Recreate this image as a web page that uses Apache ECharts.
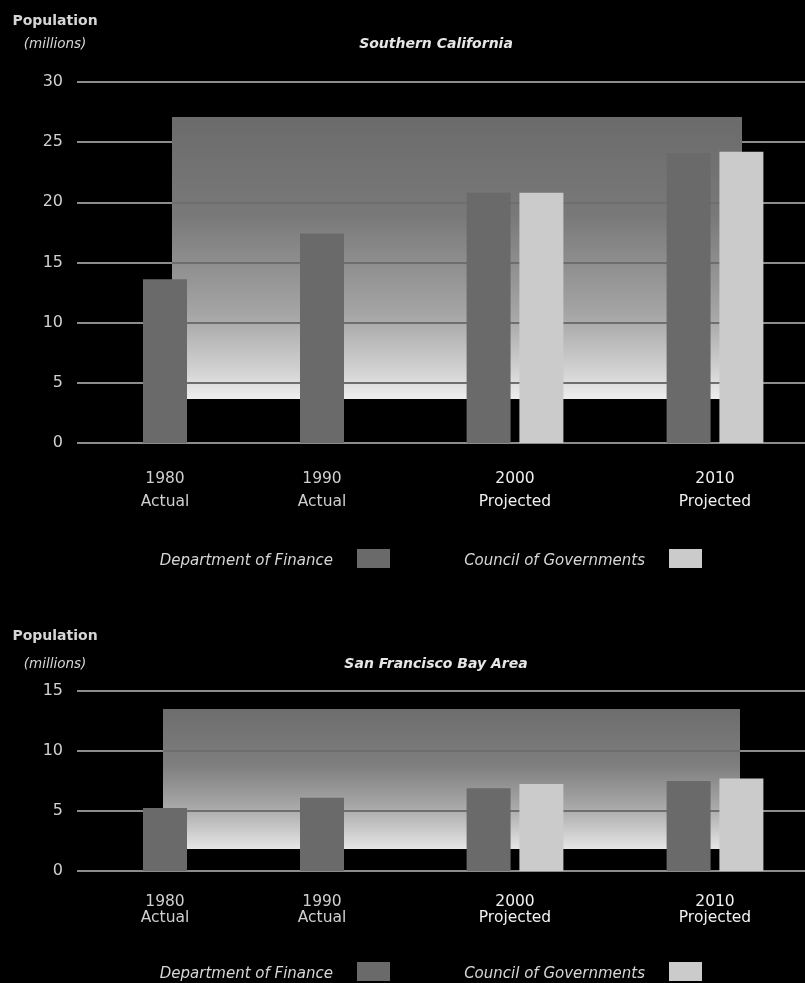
<!DOCTYPE html>
<html>
<head>
<meta charset="utf-8">
<script src="https://cdn.jsdelivr.net/npm/echarts@6/dist/echarts.min.js"></script>
<style>
  html, body { margin: 0; padding: 0; background: #000; }
  #chart { width: 805px; height: 983px; }
</style>
</head>
<body>
<div id="chart"></div>
<script>
// ---- data ----
const categories = ['1980', '1990', '2000', '2010'];
const categoryNotes = ['Actual', 'Actual', 'Projected', 'Projected'];
const seriesNames = ['Department of Finance', 'Council of Governments'];

const socalTitle = 'Southern California';
const socalFinance = [13.6, 17.4, 20.8, 24.1];
const socalCouncil = [null, null, 20.8, 24.2];
const socalTicks = [0, 5, 10, 15, 20, 25, 30];

const bayTitle = 'San Francisco Bay Area';
const bayFinance = [5.25, 6.1, 6.9, 7.5];
const bayCouncil = [null, null, 7.25, 7.7];
const bayTicks = [0, 5, 10, 15];

// ---- styling ----
const FONT = '"DejaVu Sans", sans-serif';
const TEXT = '#d6d6d6';
const GRIDLINE = '#8c8c8c';
const PANEL_GRIDLINE = '#6e6e6e';
const FIN_COLOR = '#6a6a6a';
const COG_COLOR = '#cbcbcb';

// finance values standing alone (no council figure) vs. paired with council
const singleOf = (fin, cog) => fin.map((v, i) => (cog[i] == null ? v : null));
const pairedOf = (fin, cog) => fin.map((v, i) => (cog[i] == null ? null : v));

function makeFormatter(cog, paired) {
  return function (v) {
    const k = categories.indexOf(v);
    const isPaired = cog[k] != null;
    if (isPaired !== paired) return '';
    const s = paired ? 'Y' : 'y';
    return '{' + s + '|' + v + '}\n{' + s + '|' + categoryNotes[k] + '}';
  };
}
function richFor(lh) {
  return {
    y: { fontSize: 15.5, lineHeight: lh, color: '#cfcfcf', fontFamily: FONT },
    Y: { fontSize: 15.5, lineHeight: lh, color: '#f0f0f0', fontFamily: FONT }
  };
}

const panelGradient = (stops) => new echarts.graphic.LinearGradient(0, 0, 0, 1, stops);

const chart = echarts.init(document.getElementById('chart'), null, { renderer: 'canvas' });

const valueAxis = (grid, max, show) => ({
  type: 'value', gridIndex: grid, min: 0, max: max, interval: 5, z: 1,
  axisLine: { show: false }, axisTick: { show: false },
  axisLabel: { show: show, color: '#d0d0d0', fontSize: 16, fontFamily: FONT, margin: 14 },
  splitLine: { show: show, lineStyle: { color: GRIDLINE, width: 2 } }
});
const panelAxis = (grid, max) => ({
  type: 'value', gridIndex: grid, min: 0, max: max, interval: 5, z: 1,
  axisLine: { show: false }, axisTick: { show: false }, axisLabel: { show: false },
  splitLine: { show: true, showMinLine: false, showMaxLine: false, lineStyle: { color: PANEL_GRIDLINE, width: 2 } }
});
const hiddenCat = (grid) => ({ type: 'category', gridIndex: grid, data: categories, show: false });
const labelCat = (grid, cog, paired, lh, margin) => ({
  type: 'category', gridIndex: grid, data: categories,
  axisLine: { show: false }, axisTick: { show: false }, splitLine: { show: false },
  axisLabel: { formatter: makeFormatter(cog, paired), rich: richFor(lh), margin: margin, interval: 0, hideOverlap: false }
});
const bar = (name, xi, yi, data, color) => ({
  name: name, type: 'bar', xAxisIndex: xi, yAxisIndex: yi, barWidth: 44, barGap: '20%', z: 2,
  data: data, itemStyle: { color: color }
});

const titleStyle = { color: '#e6e6e6', fontSize: 14, fontStyle: 'italic', fontWeight: 'bold', fontFamily: FONT };
const popStyle = { color: TEXT, fontSize: 14, fontWeight: 'bold', fontFamily: FONT };
const milStyle = { color: TEXT, fontSize: 13.5, fontStyle: 'italic', fontFamily: FONT };

const gridBase = { containLabel: false, outerBoundsMode: 'none' };

const option = {
  backgroundColor: '#000',
  animation: false,
  title: [
    { text: 'Population', subtext: '(millions)', left: 50, textAlign: 'center', top: 9, itemGap: 9,
      textStyle: popStyle, subtextStyle: milStyle },
    { text: socalTitle, left: 431, textAlign: 'center', top: 32, textStyle: titleStyle },
    { text: 'Population', subtext: '(millions)', left: 50, textAlign: 'center', top: 624, itemGap: 14,
      textStyle: popStyle, subtextStyle: milStyle },
    { text: bayTitle, left: 431, textAlign: 'center', top: 652, textStyle: titleStyle }
  ],
  legend: [
    { data: [seriesNames[0]], right: 415, top: 549 },
    { data: [seriesNames[1]], right: 103, top: 549 },
    { data: [seriesNames[0]], right: 415, top: 962 },
    { data: [seriesNames[1]], right: 103, top: 962 }
  ].map(l => Object.assign(l, {
    icon: 'rect', itemWidth: 33, itemHeight: 19, align: 'right', selectedMode: false, padding: 0,
    formatter: '{t|{name}}',
    textStyle: { color: TEXT, fontSize: 15, fontStyle: 'italic', fontFamily: FONT,
      rich: { t: { color: TEXT, fontSize: 15, fontStyle: 'italic', fontFamily: FONT, padding: [5, 19, 0, 0] } } }
  })),
  graphic: {
    elements: [
      { type: 'rect', z: 0, silent: true, shape: { x: 172, y: 117, width: 570, height: 282 },
        style: { fill: panelGradient([
          { offset: 0, color: '#6b6b6b' }, { offset: 0.35, color: '#797979' },
          { offset: 0.7, color: '#a5a5a5' }, { offset: 0.9, color: '#d2d2d2' }, { offset: 1, color: '#eeeeee' }]) } },
      { type: 'rect', z: 0, silent: true, shape: { x: 163, y: 709, width: 577, height: 140 },
        style: { fill: panelGradient([
          { offset: 0, color: '#6d6d6d' }, { offset: 0.4, color: '#7e7e7e' },
          { offset: 0.7, color: '#a8a8a8' }, { offset: 1, color: '#e6e6e6' }]) } }
    ]
  },
  grid: [
    { left: 77, right: 0, top: 82, height: 361 },       // 0 top: value axis & gridlines
    { left: 86.5, width: 628, top: 82, height: 361 },   // 1 top: single bars
    { left: 15, width: 800, top: 82, height: 361 },     // 2 top: paired bars
    { left: 77, right: 0, top: 691, height: 180 },      // 3 bottom: value axis & gridlines
    { left: 86.5, width: 628, top: 691, height: 180 },  // 4 bottom: single bars
    { left: 15, width: 800, top: 691, height: 180 },    // 5 bottom: paired bars
    { left: 172, width: 570, top: 82, height: 361 },    // 6 top: gridlines over the shaded panel
    { left: 163, width: 577, top: 691, height: 180 }    // 7 bottom: gridlines over the shaded panel
  ].map(g => Object.assign({}, gridBase, g)),
  xAxis: [
    hiddenCat(0),
    labelCat(1, socalCouncil, false, 23, 24),
    labelCat(2, socalCouncil, true, 23, 24),
    hiddenCat(3),
    labelCat(4, bayCouncil, false, 16, 23),
    labelCat(5, bayCouncil, true, 16, 23),
    hiddenCat(6),
    hiddenCat(7)
  ],
  yAxis: [
    valueAxis(0, socalTicks[socalTicks.length - 1], true),
    valueAxis(1, socalTicks[socalTicks.length - 1], false),
    valueAxis(2, socalTicks[socalTicks.length - 1], false),
    valueAxis(3, bayTicks[bayTicks.length - 1], true),
    valueAxis(4, bayTicks[bayTicks.length - 1], false),
    valueAxis(5, bayTicks[bayTicks.length - 1], false),
    panelAxis(6, socalTicks[socalTicks.length - 1]),
    panelAxis(7, bayTicks[bayTicks.length - 1])
  ],
  series: [
    bar(seriesNames[0], 1, 1, singleOf(socalFinance, socalCouncil), FIN_COLOR),
    bar(seriesNames[0], 2, 2, pairedOf(socalFinance, socalCouncil), FIN_COLOR),
    bar(seriesNames[1], 2, 2, socalCouncil, COG_COLOR),
    bar(seriesNames[0], 4, 4, singleOf(bayFinance, bayCouncil), FIN_COLOR),
    bar(seriesNames[0], 5, 5, pairedOf(bayFinance, bayCouncil), FIN_COLOR),
    bar(seriesNames[1], 5, 5, bayCouncil, COG_COLOR)
  ]
};
chart.setOption(option);
</script>
</body>
</html>
